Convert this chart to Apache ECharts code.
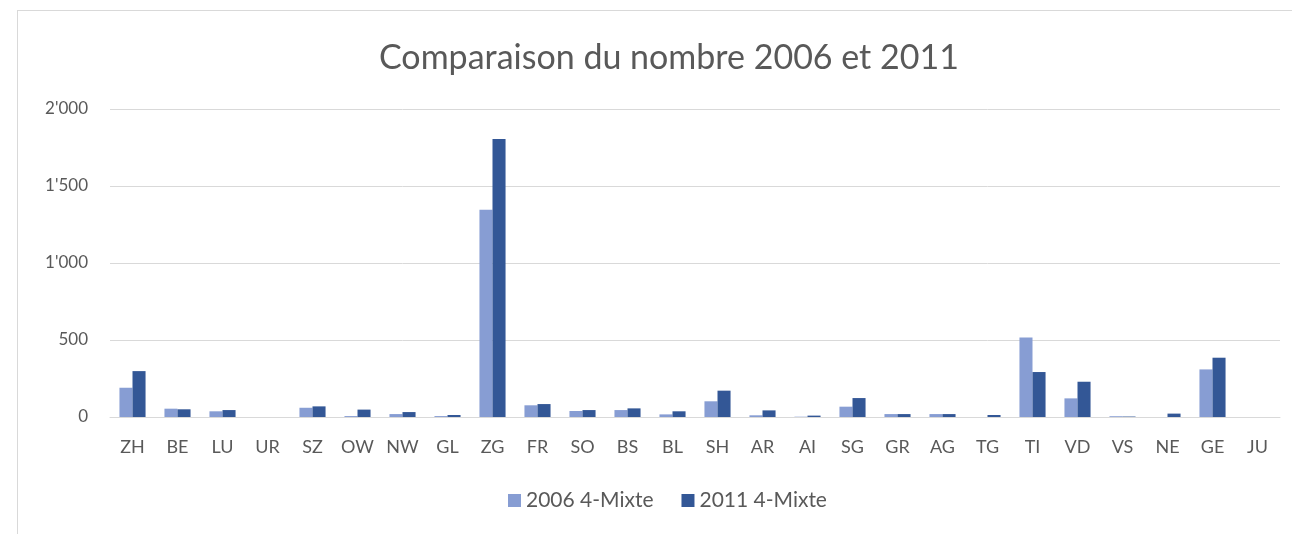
<!DOCTYPE html>
<html lang="fr">
<head>
<meta charset="UTF-8">
<title>Comparaison du nombre 2006 et 2011</title>
<script src="https://cdn.jsdelivr.net/npm/echarts@6/dist/echarts.min.js"></script>
<style type="text/css">
html, body { margin: 0; padding: 0; background: #fff; }
#frame {
	position: absolute; left: 17px; top: 10px; width: 1290px; height: 540px;
	border: 1px solid #d9d9d9;
}
#main { position: absolute; left: 0; top: 0; width: 1292px; height: 534px; }
</style>
</head>
<body>
<div id="frame"></div>
<div id="main"></div>

<script type="text/javascript">
// cantons
var cantons = ['ZH','BE','LU','UR','SZ','OW','NW','GL','ZG','FR','SO','BS','BL','SH','AR','AI','SG','GR','AG','TG','TI','VD','VS','NE','GE','JU'];
// valeurs
var mixte2006 = [190, 54, 37, 0, 60, 6, 19, 6, 1345, 76, 39, 45, 17, 102, 11, 2, 67, 19, 19, 0, 516, 121, 5, 0, 309, 0];
var mixte2011 = [298, 50, 45, 0, 69, 48, 32, 13, 1805, 84, 45, 56, 37, 171, 43, 9, 123, 19, 19, 13, 292, 229, 3, 22, 385, 0];
var yTicks = [0, 500, 1000, 1500, 2000];

function fmt(v) {
	return String(v).replace(/\B(?=(\d{3})+(?!\d))/g, "'");
}

var font = 'Lato, "Open Sans", sans-serif';
var myChart = echarts.init(document.getElementById('main'));
var option = {
	animation: false,
	textStyle: { fontFamily: font },
	title: {
		text: 'Comparaison du nombre 2006 et 2011',
		left: 374,
		top: 36,
		textStyle: { fontFamily: font, fontSize: 34, fontWeight: 'normal', color: '#595959' }
	},
	legend: {
		bottom: 18,
		left: 503,
		itemWidth: 13,
		itemHeight: 13,
		itemGap: 28,
		icon: 'rect',
		textStyle: { fontFamily: font, fontSize: 21, color: '#595959' },
		data: ['2006 4-Mixte', '2011 4-Mixte']
	},
	grid: { left: 110, right: 12, top: 109, bottom: 117, containLabel: false },
	xAxis: {
		type: 'category',
		data: cantons,
		axisLine: { lineStyle: { color: '#d9d9d9', width: 1 } },
		axisTick: { show: false },
		axisLabel: { interval: 0, fontFamily: font, fontSize: 18, color: '#595959', margin: 21 }
	},
	yAxis: {
		type: 'value',
		min: yTicks[0],
		max: yTicks[yTicks.length - 1],
		interval: 500,
		axisLine: { show: false },
		axisTick: { show: false },
		splitLine: { lineStyle: { color: '#d9d9d9', width: 1 } },
		axisLabel: { fontFamily: font, fontSize: 17, color: '#595959', margin: 22, formatter: fmt }
	},
	series: [
		{
			name: '2006 4-Mixte',
			type: 'bar',
			data: mixte2006,
			barGap: '0%',
			barCategoryGap: '42%',
			itemStyle: { color: '#879dd3' }
		},
		{
			name: '2011 4-Mixte',
			type: 'bar',
			data: mixte2011,
			itemStyle: { color: '#335796' }
		}
	]
};
myChart.setOption(option);
</script>
</body>
</html>
